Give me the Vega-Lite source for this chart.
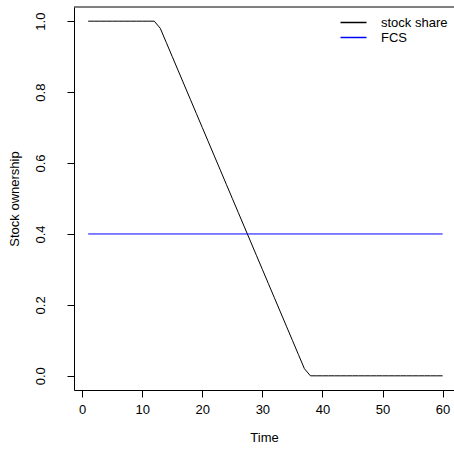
{
  "$schema": "https://vega.github.io/schema/vega-lite/v6.json",
  "autosize": {"type": "none"},
  "padding": {"left": 74, "top": 7, "right": 0, "bottom": 66},
  "width": 380,
  "height": 383,
  "background": "white",
  "config": {
    "view": {"stroke": null},
    "font": "Liberation Sans",
    "axis": {
      "grid": false,
      "domainColor": "black",
      "domainWidth": 1,
      "tickColor": "black",
      "tickWidth": 1,
      "tickSize": 7,
      "labelColor": "black",
      "labelFontSize": 13,
      "labelFont": "Liberation Sans",
      "titleColor": "black",
      "titleFontSize": 13,
      "titleFont": "Liberation Sans",
      "titleFontWeight": "normal"
    }
  },
  "datasets": {
    "ownership": [
      {"Time": 1, "value": 1.0, "series": "stock share"},
      {"Time": 2, "value": 1.0, "series": "stock share"},
      {"Time": 3, "value": 1.0, "series": "stock share"},
      {"Time": 4, "value": 1.0, "series": "stock share"},
      {"Time": 5, "value": 1.0, "series": "stock share"},
      {"Time": 6, "value": 1.0, "series": "stock share"},
      {"Time": 7, "value": 1.0, "series": "stock share"},
      {"Time": 8, "value": 1.0, "series": "stock share"},
      {"Time": 9, "value": 1.0, "series": "stock share"},
      {"Time": 10, "value": 1.0, "series": "stock share"},
      {"Time": 11, "value": 1.0, "series": "stock share"},
      {"Time": 12, "value": 1.0, "series": "stock share"},
      {"Time": 13, "value": 0.98, "series": "stock share"},
      {"Time": 14, "value": 0.94, "series": "stock share"},
      {"Time": 15, "value": 0.90, "series": "stock share"},
      {"Time": 16, "value": 0.86, "series": "stock share"},
      {"Time": 17, "value": 0.82, "series": "stock share"},
      {"Time": 18, "value": 0.78, "series": "stock share"},
      {"Time": 19, "value": 0.74, "series": "stock share"},
      {"Time": 20, "value": 0.70, "series": "stock share"},
      {"Time": 21, "value": 0.66, "series": "stock share"},
      {"Time": 22, "value": 0.62, "series": "stock share"},
      {"Time": 23, "value": 0.58, "series": "stock share"},
      {"Time": 24, "value": 0.54, "series": "stock share"},
      {"Time": 25, "value": 0.50, "series": "stock share"},
      {"Time": 26, "value": 0.46, "series": "stock share"},
      {"Time": 27, "value": 0.42, "series": "stock share"},
      {"Time": 28, "value": 0.38, "series": "stock share"},
      {"Time": 29, "value": 0.34, "series": "stock share"},
      {"Time": 30, "value": 0.30, "series": "stock share"},
      {"Time": 31, "value": 0.26, "series": "stock share"},
      {"Time": 32, "value": 0.22, "series": "stock share"},
      {"Time": 33, "value": 0.18, "series": "stock share"},
      {"Time": 34, "value": 0.14, "series": "stock share"},
      {"Time": 35, "value": 0.10, "series": "stock share"},
      {"Time": 36, "value": 0.06, "series": "stock share"},
      {"Time": 37, "value": 0.02, "series": "stock share"},
      {"Time": 38, "value": 0.0, "series": "stock share"},
      {"Time": 39, "value": 0.0, "series": "stock share"},
      {"Time": 40, "value": 0.0, "series": "stock share"},
      {"Time": 41, "value": 0.0, "series": "stock share"},
      {"Time": 42, "value": 0.0, "series": "stock share"},
      {"Time": 43, "value": 0.0, "series": "stock share"},
      {"Time": 44, "value": 0.0, "series": "stock share"},
      {"Time": 45, "value": 0.0, "series": "stock share"},
      {"Time": 46, "value": 0.0, "series": "stock share"},
      {"Time": 47, "value": 0.0, "series": "stock share"},
      {"Time": 48, "value": 0.0, "series": "stock share"},
      {"Time": 49, "value": 0.0, "series": "stock share"},
      {"Time": 50, "value": 0.0, "series": "stock share"},
      {"Time": 51, "value": 0.0, "series": "stock share"},
      {"Time": 52, "value": 0.0, "series": "stock share"},
      {"Time": 53, "value": 0.0, "series": "stock share"},
      {"Time": 54, "value": 0.0, "series": "stock share"},
      {"Time": 55, "value": 0.0, "series": "stock share"},
      {"Time": 56, "value": 0.0, "series": "stock share"},
      {"Time": 57, "value": 0.0, "series": "stock share"},
      {"Time": 58, "value": 0.0, "series": "stock share"},
      {"Time": 59, "value": 0.0, "series": "stock share"},
      {"Time": 60, "value": 0.0, "series": "stock share"},
      {"Time": 1, "value": 0.4, "series": "FCS"},
      {"Time": 60, "value": 0.4, "series": "FCS"}
    ]
  },
  "layer": [
    {
      "data": {"name": "ownership"},
      "mark": {"type": "line", "strokeWidth": 1, "clip": true},
      "encoding": {
        "x": {
          "field": "Time",
          "type": "quantitative",
          "scale": {"domain": [-1.36, 61.9], "nice": false, "zero": false},
          "axis": {
            "orient": "bottom",
            "values": [0, 10, 20, 30, 40, 50, 60],
            "title": "Time",
            "labelPadding": 6,
            "titleY": 47,
            "titleBaseline": "middle"
          }
        },
        "y": {
          "field": "value",
          "type": "quantitative",
          "scale": {"domain": [-0.04, 1.04], "nice": false, "zero": false},
          "axis": {
            "values": [0, 0.2, 0.4, 0.6, 0.8, 1.0],
            "format": ".1f",
            "title": "Stock ownership",
            "labelAngle": -90,
            "labelAlign": "center",
            "labelBaseline": "bottom",
            "labelPadding": 20,
            "titleAngle": -90,
            "titleX": -60,
            "titleY": 191.5,
            "titleAlign": "center",
            "titleBaseline": "middle"
          }
        },
        "color": {
          "field": "series",
          "type": "nominal",
          "scale": {"domain": ["stock share", "FCS"], "range": ["black", "#0000ff"]},
          "legend": {
            "title": null,
            "orient": "none",
            "legendX": 272,
            "legendY": 8,
            "symbolType": "M-2,0H2",
            "symbolSize": 169,
            "symbolStrokeWidth": 1.5,
            "labelFontSize": 13,
            "labelFont": "Liberation Sans",
            "labelColor": "black",
            "labelOffset": 20,
            "rowPadding": 0
          }
        }
      }
    },
    {
      "description": "top edge of the plot frame",
      "data": {"values": [{}]},
      "mark": {"type": "rule", "color": "black", "strokeWidth": 1},
      "encoding": {"y": {"datum": 1.04}}
    }
  ]
}
